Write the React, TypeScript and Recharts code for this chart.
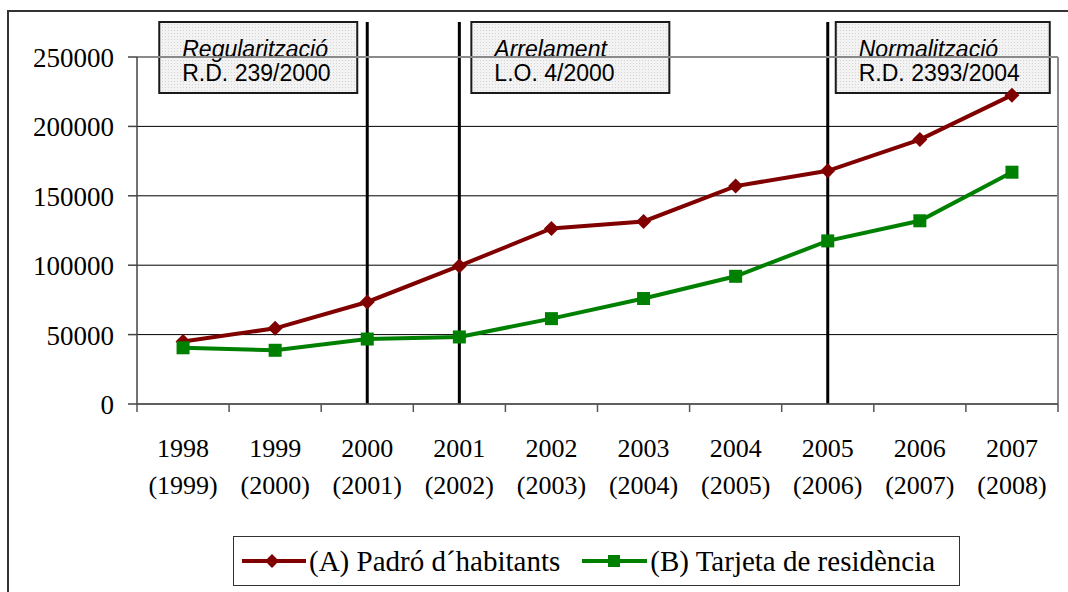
import React from 'react';
import { LineChart, Line, XAxis, YAxis, CartesianGrid, ReferenceLine } from 'recharts';

const years = ['1998', '1999', '2000', '2001', '2002', '2003', '2004', '2005', '2006', '2007'];
const refYears = ['(1999)', '(2000)', '(2001)', '(2002)', '(2003)', '(2004)', '(2005)', '(2006)', '(2007)', '(2008)'];
const padro = [45000, 54500, 73500, 99500, 126500, 131500, 157000, 168000, 190500, 222500];
const tarjeta = [40500, 38700, 46800, 48300, 61500, 76000, 92000, 117500, 132000, 167000];
const yTicks = [0, 50000, 100000, 150000, 200000, 250000];
const seriesNames = ['(A) Padró d´habitants', '(B) Tarjeta de residència'];

const lawYears = ['2000', '2001', '2005'];
const lawTitles = ['Regularització', 'Arrelament', 'Normalització'];
const lawRefs = ['R.D. 239/2000', 'L.O. 4/2000', 'R.D. 2393/2004'];

// box placement relative to each law line
const boxLayout = [
    { dx: -208, w: 198 },
    { dx: 12, w: 198 },
    { dx: 8, w: 214 },
];

const RED = '#800000';
const GREEN = '#008000';
const SERIF = '"Liberation Serif", "Times New Roman", serif';
const SANS = '"Liberation Sans", Arial, sans-serif';

const rows = years.map((y, i) => ({
    pos: i + 0.5,
    year: y,
    ref: refYears[i],
    padro: padro[i],
    tarjeta: tarjeta[i],
}));

const edges = years.map((_, i) => i).concat(years.length);
const centers = years.map((_, i) => i + 0.5);

const Diamond = (p: any) => {
    const { cx, cy, index } = p;
    if (cx == null || cy == null) return <g key={`d${index}`} />;
    const r = 7.5;
    return (
        <polygon
            key={`d${index}`}
            points={`${cx},${cy - r} ${cx + r},${cy} ${cx},${cy + r} ${cx - r},${cy}`}
            fill={RED}
        />
    );
};

const Square = (p: any) => {
    const { cx, cy, index } = p;
    if (cx == null || cy == null) return <g key={`s${index}`} />;
    const h = 6.5;
    return <rect key={`s${index}`} x={cx - h} y={cy - h} width={h * 2} height={h * 2} fill={GREEN} />;
};

const EmptyTick = () => <g />;

const YearTick = (p: any) => {
    const { x, y, payload } = p;
    const i = Math.floor(payload.value);
    return (
        <text x={x} y={y} textAnchor="middle" fontFamily={SERIF} fontSize={26} fill="#000">
            <tspan x={x} dy={45}>{years[i]}</tspan>
            <tspan x={x} dy={37}>{refYears[i]}</tspan>
        </text>
    );
};

const ValueTick = (p: any) => {
    const { x, y, payload } = p;
    return (
        <text x={x} y={y} dy={10} textAnchor="end" fontFamily={SERIF} fontSize={27} fill="#000">
            {payload.value}
        </text>
    );
};

const lawShape = (i: number) => (p: any) => {
    const x = p.x1;
    const top = Math.min(p.y1, p.y2);
    const bottom = Math.max(p.y1, p.y2);
    const lineTop = top - 35;
    const b = boxLayout[i];
    const bx = x + b.dx;
    return (
        <g>
            <rect x={bx} y={lineTop} width={b.w} height={71} fill="url(#dots)" stroke="#1a1a1a" strokeWidth={2} />
            <text x={bx + 23} y={lineTop + 35} fontFamily={SANS} fontSize={23} fontStyle="italic" fill="#000">
                {lawTitles[i]}
            </text>
            <text x={bx + 23} y={lineTop + 59} fontFamily={SANS} fontSize={23} fill="#000">
                {lawRefs[i]}
            </text>
            <line x1={x} x2={x} y1={lineTop} y2={bottom} stroke="#000" strokeWidth={3} />
        </g>
    );
};

export default function App() {
    return (
        <div style={{ position: 'absolute', left: 0, top: 0, width: 1068, height: 592, overflow: 'hidden', background: '#fff' }}>
            {/* outer chart frame, runs off the picture */}
            <div style={{ position: 'absolute', left: 7, top: 10, width: 1100, height: 640, border: '2px solid #333' }} />

            <div style={{ position: 'absolute', left: 0, top: 0 }}>
                <LineChart width={1068} height={592} data={rows} margin={{ top: 57, right: 10, bottom: 90, left: 0 }}>
                    <defs>
                        <pattern id="dots" width="3" height="3" patternUnits="userSpaceOnUse">
                            <rect width="3" height="3" fill="#f3f3f3" />
                            <rect width="1" height="1" fill="#d4d4d4" />
                        </pattern>
                    </defs>
                    <CartesianGrid vertical={false} stroke="#000" strokeWidth={1} />
                    <XAxis
                        dataKey="pos"
                        type="number"
                        domain={[0, years.length]}
                        ticks={edges}
                        interval={0}
                        tick={<EmptyTick />}
                        tickSize={8}
                        height={8}
                        axisLine={{ stroke: '#555', strokeWidth: 1.5 }}
                        tickLine={{ stroke: '#555', strokeWidth: 1.5 }}
                    />
                    <XAxis
                        xAxisId="lab"
                        dataKey="pos"
                        type="number"
                        domain={[0, years.length]}
                        ticks={centers}
                        interval={0}
                        height={90}
                        tickSize={0}
                        tickMargin={0}
                        axisLine={false}
                        tickLine={false}
                        tick={<YearTick />}
                    />
                    <YAxis
                        domain={[0, 250000]}
                        ticks={yTicks}
                        interval={0}
                        width={137}
                        tickSize={9}
                        tickMargin={14}
                        axisLine={{ stroke: '#444', strokeWidth: 1.5 }}
                        tickLine={{ stroke: '#444', strokeWidth: 1.5 }}
                        tick={<ValueTick />}
                    />
                    {lawYears.map((ly, i) => (
                        <ReferenceLine key={ly} x={years.indexOf(ly) + 0.5} shape={lawShape(i)} />
                    ))}
                    <ReferenceLine y={250000} stroke="#8a8a8a" strokeWidth={2} />
                    <ReferenceLine x={years.length} stroke="#8a8a8a" strokeWidth={2} />
                    <Line
                        dataKey="padro"
                        stroke={RED}
                        strokeWidth={4}
                        dot={Diamond}
                        activeDot={false}
                        isAnimationActive={false}
                    />
                    <Line
                        dataKey="tarjeta"
                        stroke={GREEN}
                        strokeWidth={4}
                        dot={Square}
                        activeDot={false}
                        isAnimationActive={false}
                    />
                </LineChart>
            </div>

            {/* legend */}
            <div
                style={{
                    position: 'absolute',
                    left: 233,
                    top: 536,
                    width: 727,
                    height: 50,
                    boxSizing: 'border-box',
                    border: '1.5px solid #333',
                    display: 'flex',
                    alignItems: 'center',
                    paddingLeft: 8,
                    fontFamily: SERIF,
                    fontSize: 29,
                    color: '#000',
                    whiteSpace: 'nowrap',
                }}
            >
                <svg width={64} height={16} style={{ marginRight: 3 }}>
                    <line x1={0} x2={64} y1={8} y2={8} stroke={RED} strokeWidth={4} />
                    <polygon points="30,1 37,8 30,15 23,8" fill={RED} />
                </svg>
                <span>{seriesNames[0]}</span>
                <svg width={65} height={16} style={{ marginLeft: 22, marginRight: 3 }}>
                    <line x1={0} x2={65} y1={8} y2={8} stroke={GREEN} strokeWidth={4} />
                    <rect x={26} y={2} width={12} height={12} fill={GREEN} />
                </svg>
                <span>{seriesNames[1]}</span>
            </div>
        </div>
    );
}
